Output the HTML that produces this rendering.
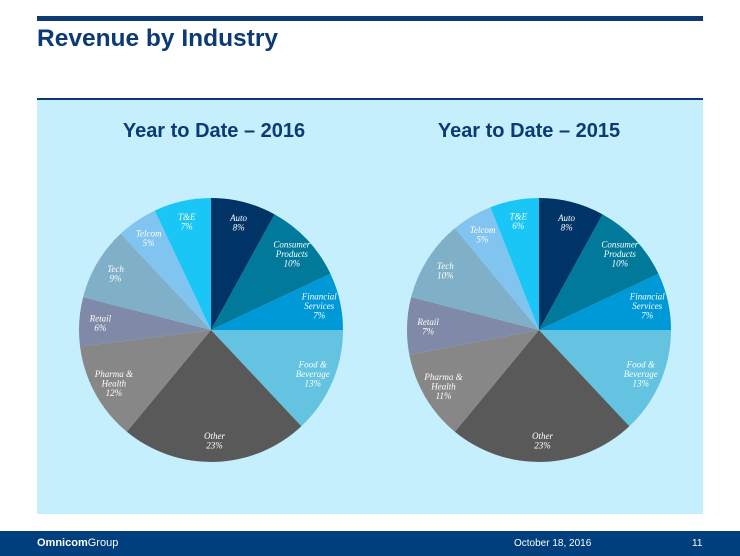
<!DOCTYPE html>
<html><head><meta charset="utf-8"><style>
body{margin:0;width:740px;height:556px;position:relative;background:#fff;font-family:"Liberation Sans",sans-serif;overflow:hidden}
.abs{position:absolute}
</style></head><body>
<div class="abs" style="left:37px;top:16px;width:666px;height:5px;background:#0b3a75"></div>
<div class="abs" style="left:37px;top:25px;font-size:24.5px;font-weight:bold;color:#0b3a75">Revenue by Industry</div>
<div class="abs" style="left:37px;top:98px;width:666px;height:414px;background:#c5effc;border-top:2px solid #0b3a75"></div>
<svg class="abs" style="left:0;top:0" width="740" height="556" id="chart">
<text x="214" y="137" text-anchor="middle" font-size="20" font-weight="bold" fill="#0b3a75">Year to Date – 2016</text>
<text x="529" y="137" text-anchor="middle" font-size="20" font-weight="bold" fill="#0b3a75">Year to Date – 2015</text>
</svg>
<div class="abs" style="left:0;top:531px;width:740px;height:25px;background:#003f7d"></div>
<div class="abs" style="left:37px;top:537px;font-size:11px;color:#fff"><b>Omnicom</b>Group</div>
<div class="abs" style="left:514px;top:538px;font-size:10px;color:#fff">October 18, 2016</div>
<div class="abs" style="left:692px;top:538px;font-size:10px;color:#fff">11</div>
<script>
const categories=[["Auto"],["Consumer","Products"],["Financial","Services"],["Food &","Beverage"],["Other"],["Pharma &","Health"],["Retail"],["Tech"],["Telcom"],["T&E"]];
const values2016=[8,10,7,13,23,12,6,9,5,7];
const values2015=[8,10,7,13,23,11,7,10,5,6];
const colors=["#003366","#00799b","#0099d8","#63c3e0","#595959","#878787","#7f8aa8","#80afc8","#82c4f0","#1ac6f6"];
const svg=document.getElementById('chart');
const NS='http://www.w3.org/2000/svg';
function drawPie(vals,cx,cy,r,name){
  const total=vals.reduce((a,b)=>a+b,0);let acc=0;
  vals.forEach((v,i)=>{
    const a0=acc/total*2*Math.PI;acc+=v;const a1=acc/total*2*Math.PI;
    const x0=cx+r*Math.sin(a0),y0=cy-r*Math.cos(a0),x1=cx+r*Math.sin(a1),y1=cy-r*Math.cos(a1);
    const p=document.createElementNS(NS,'path');
    p.setAttribute('d',`M${cx},${cy}L${x0},${y0}A${r},${r} 0 ${a1-a0>Math.PI?1:0} 1 ${x1},${y1}Z`);
    p.setAttribute('fill',colors[i]);
    
    
    svg.appendChild(p);
  });
  acc=0;
  vals.forEach((v,i)=>{
    const am=(acc+v/2)/total*2*Math.PI;acc+=v;
    const lr=r*0.84;const lx=cx+lr*Math.sin(am),ly=cy-lr*Math.cos(am);
    const lines=categories[i].concat([v+'%']);
    const t=document.createElementNS(NS,'text');
    t.setAttribute('text-anchor','middle');t.setAttribute('font-size','9');
    t.setAttribute('font-family','"Liberation Serif",serif');t.setAttribute('font-style','italic');t.setAttribute('fill','#fff');
    
    
    const y0=ly-(lines.length-1)*9.5/2+3;
    lines.forEach((s,k)=>{const ts=document.createElementNS(NS,'tspan');ts.setAttribute('x',lx);ts.setAttribute('y',y0+k*9.5);ts.textContent=s;t.appendChild(ts);});
    svg.appendChild(t);
  });
}
drawPie(values2016,211,330,132,'pie-2016');
drawPie(values2015,539,330,132,'pie-2015');
</script>
</body></html>
